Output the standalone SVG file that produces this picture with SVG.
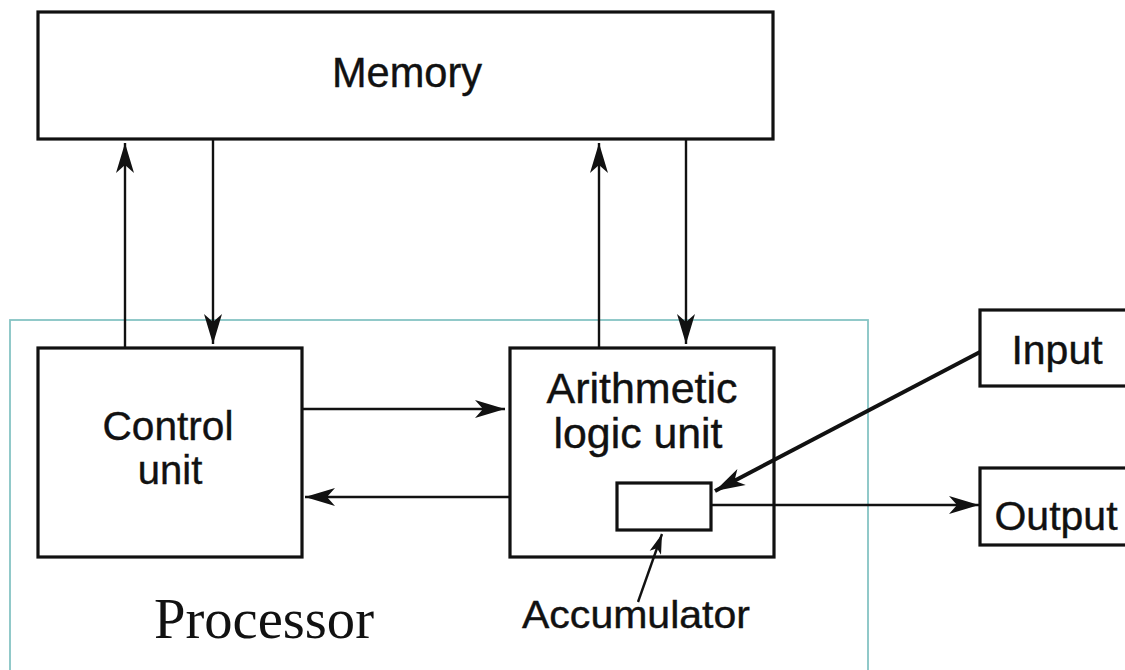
<svg xmlns="http://www.w3.org/2000/svg" width="1125" height="670" viewBox="0 0 1125 670">
<style>
.box{fill:#fff;stroke:#111;stroke-width:3.2}
.lbl{font-family:"Liberation Sans",Arial,sans-serif;fill:#111;text-anchor:middle;stroke:#111;stroke-width:0.4}
.ln{stroke:#111;stroke-width:2.4;fill:none}
.thick{stroke-width:4}
</style>
<defs>
<marker id="ah" viewBox="-32 -10 34 20" refX="0" refY="0" markerWidth="34" markerHeight="20" markerUnits="userSpaceOnUse" orient="auto">
<path d="M0,0 L-30,-9 L-22,0 L-30,9 Z" fill="#111"/>
</marker>
<marker id="ahs" viewBox="-22 -8 24 16" refX="0" refY="0" markerWidth="24" markerHeight="16" markerUnits="userSpaceOnUse" orient="auto">
<path d="M0,0 L-20,-6 L-15,0 L-20,6 Z" fill="#111"/>
</marker>
</defs>
<rect width="1125" height="670" fill="#fff"/>
<g id="processor">
<rect x="10" y="320" width="858" height="370" fill="none" stroke="#86c4c4" stroke-width="1.8"/>
<text x="264" y="638" font-family="'Liberation Serif','Times New Roman',serif" font-size="56" text-anchor="middle" fill="#111" textLength="220" lengthAdjust="spacingAndGlyphs">Processor</text>
</g>
<g id="memory">
<rect class="box" x="38" y="12" width="735" height="127"/>
<text class="lbl" x="407" y="87" font-size="42" textLength="150" lengthAdjust="spacingAndGlyphs">Memory</text>
</g>
<g id="control">
<rect class="box" x="38" y="348" width="264" height="209"/>
<text class="lbl" x="168" y="440" font-size="40" textLength="131" lengthAdjust="spacingAndGlyphs">Control</text>
<text class="lbl" x="170" y="484" font-size="40">unit</text>
</g>
<g id="alu">
<rect class="box" x="510" y="348" width="264" height="209"/>
<text class="lbl" x="642" y="403" font-size="42" textLength="191" lengthAdjust="spacingAndGlyphs">Arithmetic</text>
<text class="lbl" x="638" y="448" font-size="42" textLength="169" lengthAdjust="spacingAndGlyphs">logic unit</text>
</g>
<g id="accumulator">
<rect class="box" x="617" y="483" width="94" height="47"/>
<text class="lbl" x="636" y="628" font-size="38" textLength="228" lengthAdjust="spacingAndGlyphs">Accumulator</text>
</g>
<g id="input">
<rect class="box" x="980" y="310" width="160" height="76"/>
<text class="lbl" x="1057" y="364" font-size="41">Input</text>
</g>
<g id="output">
<rect class="box" x="980" y="468" width="160" height="77"/>
<text class="lbl" x="1056" y="530" font-size="41">Output</text>
</g>
<g id="connectors">
<line class="ln" x1="125" y1="347" x2="125" y2="143" marker-end="url(#ah)"/>
<line class="ln" x1="213" y1="140" x2="213" y2="344" marker-end="url(#ah)"/>
<line class="ln" x1="599" y1="347" x2="599" y2="143" marker-end="url(#ah)"/>
<line class="ln" x1="686" y1="140" x2="686" y2="344" marker-end="url(#ah)"/>
<line class="ln" x1="303" y1="409" x2="505" y2="409" marker-end="url(#ah)"/>
<line class="ln" x1="509" y1="497" x2="305" y2="497" marker-end="url(#ah)"/>
<line class="ln thick" x1="980" y1="352" x2="715" y2="491" marker-end="url(#ah)"/>
<line class="ln" x1="712" y1="505" x2="979" y2="505" marker-end="url(#ah)"/>
<line class="ln" x1="638" y1="602" x2="662" y2="534" marker-end="url(#ahs)"/>
</g>
</svg>
